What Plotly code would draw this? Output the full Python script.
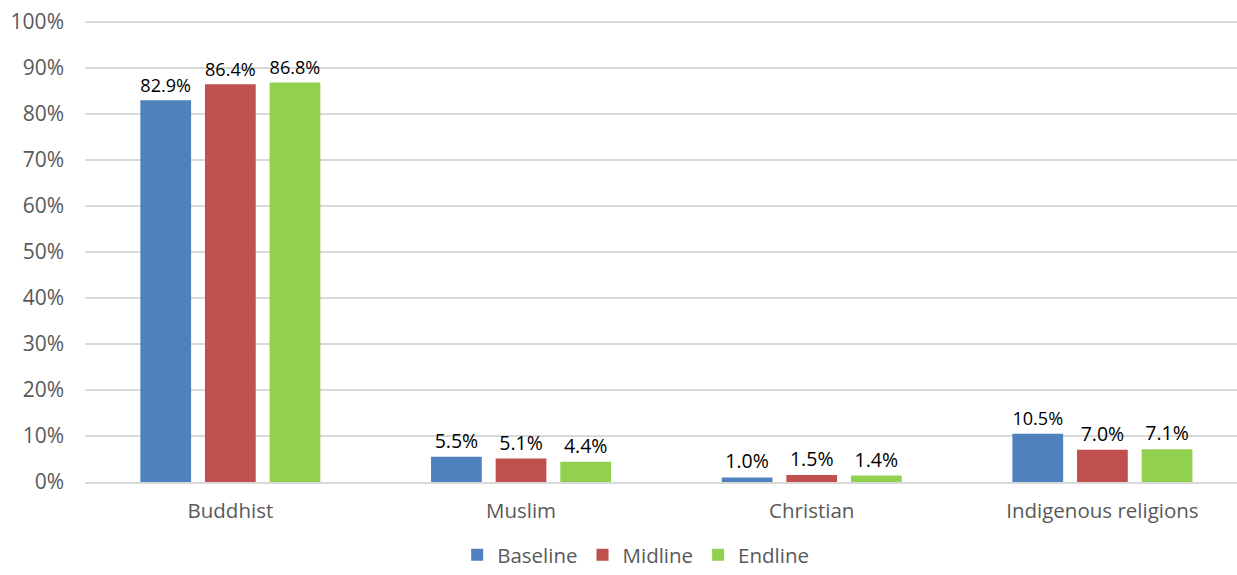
import plotly.graph_objects as go

categories = ["Buddhist", "Muslim", "Christian", "Indigenous religions"]
series_names = ["Baseline", "Midline", "Endline"]
baseline = [0.829, 0.055, 0.010, 0.105]
midline = [0.864, 0.051, 0.015, 0.070]
endline = [0.868, 0.044, 0.014, 0.071]
colors = ["#4F81BD", "#C0504D", "#92D050"]
y_ticks = [i / 10 for i in range(11)]
y_tick_labels = [f"{i*10}%" for i in range(11)]

FONT = "Open Sans, Liberation Sans, sans-serif"

fig = go.Figure()
for name, vals, col in zip(series_names, [baseline, midline, endline], colors):
    fig.add_trace(go.Bar(
        x=categories, y=vals, name=name,
        marker=dict(color=col, line=dict(width=0)),
        text=[f"{v*100:.1f}%" for v in vals],
        textposition="outside",
        textfont=dict(family=FONT, size=19.5, color="#000000"),
        cliponaxis=False,
    ))

fig.update_layout(
    width=1237, height=575,
    margin=dict(l=85, r=0, t=17.4, b=93, autoexpand=False),
    paper_bgcolor="white", plot_bgcolor="white",
    barmode="group", bargap=0.333, bargroupgap=0.215,
    font=dict(family=FONT, size=20, color="#595959"),
    showlegend=True,
    legend=dict(orientation="h", x=0.478, xanchor="center",
                yref="container", y=-0.009, yanchor="bottom",
                font=dict(family=FONT, size=20.5, color="#595959"),
                itemwidth=30, traceorder="normal"),
    xaxis=dict(range=[-0.5, 3.463], showgrid=False, showline=True,
               linecolor="#D9D9D9", linewidth=1.5, ticks="",
               ticklabelstandoff=10, automargin=False,
               tickfont=dict(family=FONT, size=20.5, color="#595959")),
    yaxis=dict(range=[0, 1.01], tickvals=y_ticks, ticktext=y_tick_labels,
               showgrid=True, gridcolor="#D9D9D9", gridwidth=1.5,
               zeroline=False, showline=False, ticks="",
               ticklabelstandoff=20, automargin=False,
               ticklabeloverflow="allow",
               tickfont=dict(family=FONT, size=21, color="#595959")),
)

fig.write_html("out.html", config={"displayModeBar": False},
               post_script="document.body.style.margin='0';")
